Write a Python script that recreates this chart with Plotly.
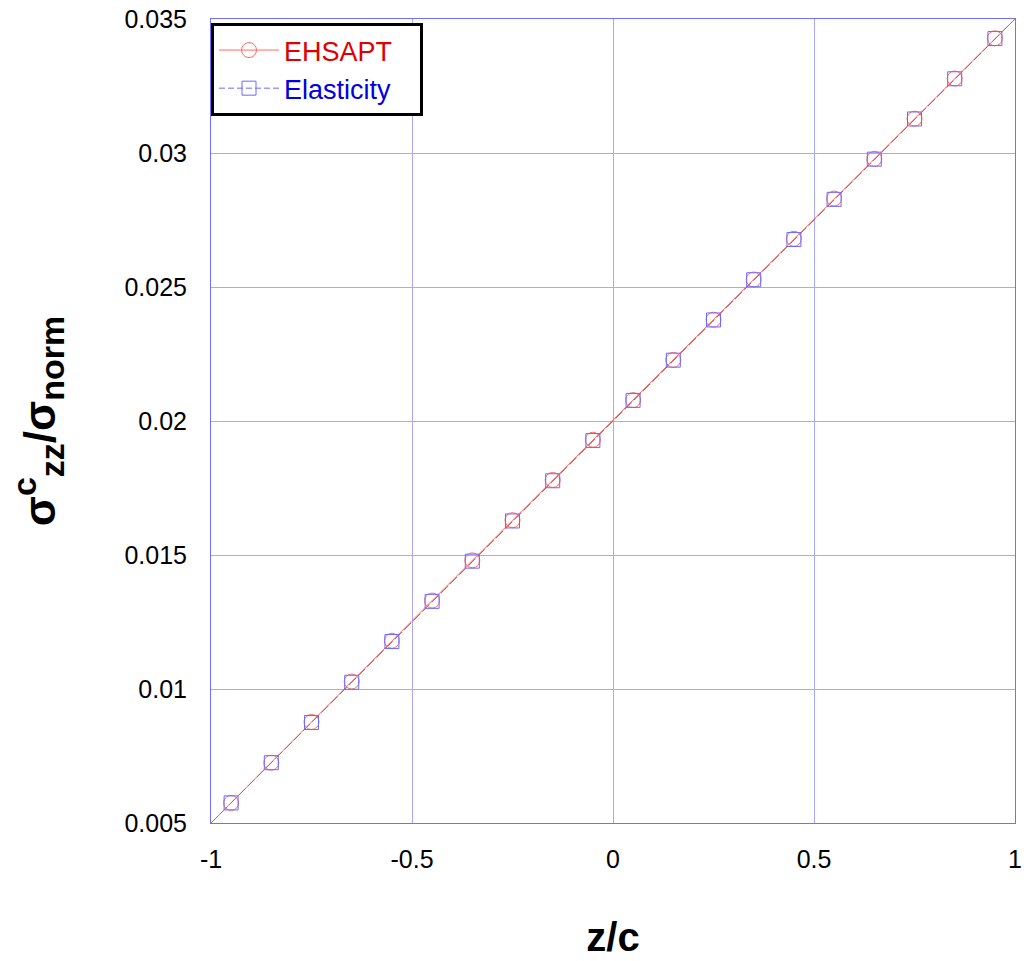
import plotly.graph_objects as go

# Normalised through-thickness stress in the core, sampled across z/c
z_line = [-1.0, -0.9, -0.8, -0.7, -0.6, -0.5, -0.4, -0.3, -0.2, -0.1, 0.0,
          0.1, 0.2, 0.3, 0.4, 0.5, 0.6, 0.7, 0.8, 0.9, 1.0]
ehsapt_line = [0.00500, 0.00650, 0.00800, 0.00952, 0.01103, 0.01255, 0.01405,
               0.01555, 0.01705, 0.01855, 0.02005, 0.02153, 0.02303, 0.02453,
               0.02605, 0.02755, 0.02905, 0.03052, 0.03202, 0.03352, 0.03500]
elastic_line = [0.00500, 0.00650, 0.00800, 0.00950, 0.01100, 0.01252, 0.01402,
                0.01552, 0.01702, 0.01852, 0.02002, 0.02152, 0.02302, 0.02452,
                0.02602, 0.02752, 0.02902, 0.03052, 0.03202, 0.03352, 0.03500]

z_pts = [-0.95, -0.85, -0.75, -0.65, -0.55, -0.45, -0.35, -0.25, -0.15, -0.05,
         0.05, 0.15, 0.25, 0.35, 0.45, 0.55, 0.65, 0.75, 0.85, 0.95]
ehsapt_pts = [0.00575, 0.00725, 0.00877, 0.01028, 0.01180, 0.01330, 0.01480,
              0.01630, 0.01780, 0.01930, 0.02078, 0.02228, 0.02378, 0.02528,
              0.02680, 0.02830, 0.02978, 0.03128, 0.03278, 0.03428]
elastic_pts = [0.00575, 0.00725, 0.00875, 0.01025, 0.01177, 0.01327, 0.01477,
               0.01627, 0.01777, 0.01927, 0.02077, 0.02227, 0.02377, 0.02527,
               0.02677, 0.02827, 0.02977, 0.03127, 0.03277, 0.03427]

x_ticks = [-1, -0.5, 0, 0.5, 1]
x_tick_text = ["-1", "-0.5", "0", "0.5", "1"]
y_ticks = [0.005, 0.01, 0.015, 0.02, 0.025, 0.03, 0.035]
y_tick_text = ["0.005", "0.01", "0.015", "0.02", "0.025", "0.03", "0.035"]

RED = "#ff6a6a"
BLUE = "#6a6aff"
RED_TXT = "#e00000"
BLUE_TXT = "#0000e0"
GRID = "#a8a8ff"

fig = go.Figure()

# Curves
fig.add_trace(go.Scatter(x=z_line, y=ehsapt_line, mode="lines",
                         line=dict(color=RED, width=1), showlegend=False,
                         hoverinfo="skip"))
fig.add_trace(go.Scatter(x=z_line, y=elastic_line, mode="lines",
                         line=dict(color=BLUE, width=1, dash="10px,3px"),
                         showlegend=False, hoverinfo="skip"))

# Symbols
fig.add_trace(go.Scatter(x=z_pts, y=ehsapt_pts, mode="markers",
                         marker=dict(symbol="circle-open", size=15,
                                     line=dict(color=RED, width=1), color=RED),
                         showlegend=False))
fig.add_trace(go.Scatter(x=z_pts, y=elastic_pts, mode="markers",
                         marker=dict(symbol="square-open", size=14,
                                     line=dict(color=BLUE, width=1), color=BLUE),
                         showlegend=False))

# Legend entries
fig.add_trace(go.Scatter(x=[None], y=[None], mode="lines+markers",
                         name="<span style='color:%s'>EHSAPT</span>   " % RED_TXT,
                         line=dict(color=RED, width=1),
                         marker=dict(symbol="circle-open", size=15,
                                     line=dict(color=RED, width=1), color=RED)))
fig.add_trace(go.Scatter(x=[None], y=[None], mode="lines+markers",
                         name="<span style='color:%s'>Elasticity</span>   " % BLUE_TXT,
                         line=dict(color=BLUE, width=1, dash="6px,3px"),
                         marker=dict(symbol="square-open", size=14,
                                     line=dict(color=BLUE, width=1), color=BLUE)))

axis_common = dict(
    showgrid=True, gridcolor=GRID, gridwidth=1,
    showline=True, linecolor="#7070ff", linewidth=1, mirror=True,
    zeroline=False, ticks="", automargin=False,
    tickfont=dict(family="Arial, Liberation Sans, sans-serif", size=25, color="black"),
)

y_title = ("<b>σ<sup><span style='font-size:34px'>c</span></sup>"
           "<sub><span style='font-size:34px'>zz</span></sub>/σ"
           "<sub><span style='font-size:34px'>norm</span></sub></b>")

fig.update_layout(
    width=1024, height=961,
    margin=dict(l=211, r=9, t=19, b=138),
    paper_bgcolor="white", plot_bgcolor="white",
    font=dict(family="Arial, Liberation Sans, sans-serif"),
    xaxis=dict(range=[-1, 1], tickvals=x_ticks, ticktext=x_tick_text,
               ticklabelstandoff=14,
               title=dict(text="<b>z/c</b>", font=dict(size=40, color="black"),
                          standoff=50),
               **axis_common),
    yaxis=dict(range=[0.005, 0.035], tickvals=y_ticks, ticktext=y_tick_text,
               ticklabelstandoff=18,
               title=dict(text=y_title,
                          font=dict(size=44, color="black"), standoff=55),
               **axis_common),
    legend=dict(x=0.0, y=0.995, xanchor="left", yanchor="top",
                bgcolor="white", bordercolor="black", borderwidth=3,
                font=dict(size=27), itemwidth=60,
                tracegroupgap=0),
)

fig.write_html("out.html")
